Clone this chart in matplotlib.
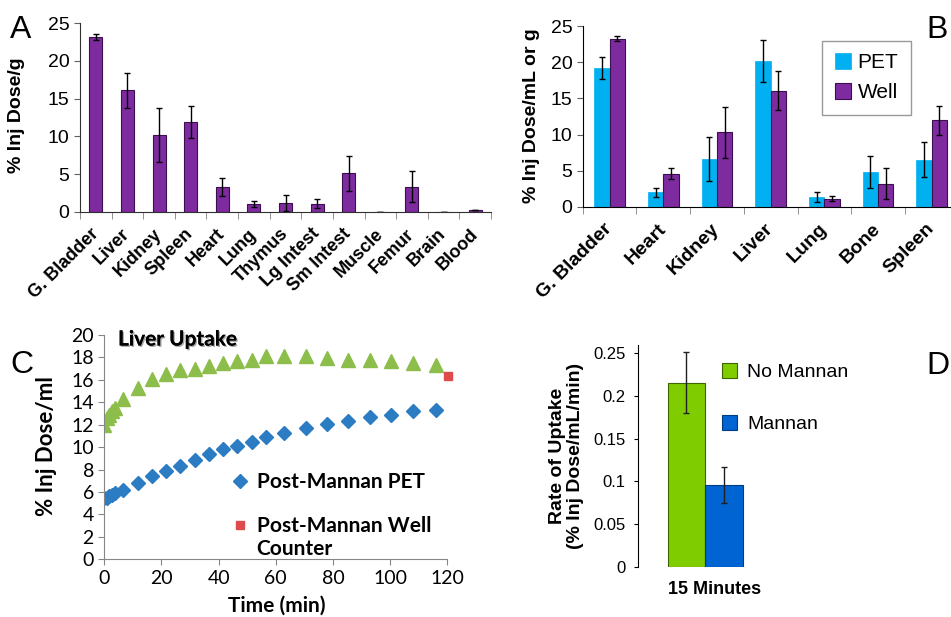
import matplotlib
matplotlib.use("Agg")
from matplotlib import pyplot as plt
from matplotlib import patheffects
import numpy as np

# ---- Panel A: biodistribution (well counter)
organs_a = ["G. Bladder", "Liver", "Kidney", "Spleen", "Heart", "Lung", "Thymus",
            "Lg Intest", "Sm Intest", "Muscle", "Femur", "Brain", "Blood"]
dose_a = [23.2, 16.1, 10.2, 11.9, 3.35, 1.1, 1.2, 1.1, 5.1, 0.05, 3.35, 0.05, 0.2]
err_a = [0.4, 2.3, 3.6, 2.1, 1.2, 0.4, 1.1, 0.6, 2.3, 0.0, 2.05, 0.0, 0.0]

# ---- Panel B: PET vs well
organs_b = ["G. Bladder", "Heart", "Kidney", "Liver", "Lung", "Bone", "Spleen"]
pet_b = [19.25, 2.0, 6.6, 20.2, 1.35, 4.8, 6.5]
pet_err_b = [1.5, 0.6, 3.0, 2.9, 0.65, 2.25, 2.4]
well_b = [23.3, 4.6, 10.3, 16.1, 1.1, 3.2, 12.0]
well_err_b = [0.3, 0.8, 3.5, 2.7, 0.35, 2.1, 2.0]

# ---- Panel C: liver uptake time course
time_c = [0, 0.8, 1.7, 2.7, 3.7, 6.6, 11.7, 16.7, 21.6, 26.6, 31.6, 36.6, 41.6,
          46.5, 51.7, 56.6, 62.9, 70.4, 77.9, 85.4, 92.8, 100.4, 108.1, 116.0]
liver_c = [12.0, 12.6, 12.9, 13.2, 13.5, 14.3, 15.3, 16.1, 16.5, 16.9, 17.0, 17.2,
           17.5, 17.7, 17.8, 18.1, 18.1, 18.1, 17.95, 17.8, 17.8, 17.7, 17.5, 17.3]
mannan_pet_c = [5.47, 5.5, 5.6, 5.7, 5.9, 6.15, 6.8, 7.4, 7.9, 8.35, 8.85, 9.4, 9.8,
                10.1, 10.5, 10.9, 11.3, 11.7, 12.1, 12.3, 12.65, 12.9, 13.2, 13.35]
well_time_c = [120.3]
well_c = [16.35]

# ---- Panel D: rate of uptake
groups_d = ["No Mannan", "Mannan"]
rate_d = [0.2153, 0.0952]
rate_err_d = [0.0355, 0.021]

W, H = 951, 617
fig = plt.figure(figsize=(W / 100, H / 100), dpi=100, facecolor="white")


def px_axes(left, top, right, bottom):
    return fig.add_axes([left / W, 1 - bottom / H, (right - left) / W, (bottom - top) / H])


arial = "Liberation Sans"
cal = "Lato"
purple = "#7F2BA0"
ekw = dict(ecolor="black", elinewidth=1, capsize=2, capthick=1)

# ================= A
axA = px_axes(80, 23, 491, 212)
xa = np.arange(len(organs_a))
axA.bar(xa, dose_a, width=0.41, color=purple, edgecolor="#3a1050", linewidth=0.8,
        yerr=err_a, error_kw=ekw)
axA.set_xlim(-0.5, len(organs_a) - 0.5)
axA.set_ylim(0, 25)
axA.set_yticks([0, 5, 10, 15, 20, 25])
axA.set_xticks(xa)
axA.set_xticklabels(organs_a, rotation=45, ha="right", va="center", rotation_mode="anchor",
                    fontsize=13, fontweight="bold", family=arial)
axA.tick_params(axis="x", length=0, pad=14)
axA.set_xticks(np.arange(len(organs_a) + 1) - 0.5, minor=True)
axA.tick_params(axis="x", which="minor", length=5, color="#808080", direction="out")
axA.tick_params(axis="y", length=4, color="#606060", labelsize=14)
for lab in axA.get_yticklabels():
    lab.set_family(arial)
for s in ["top", "right"]:
    axA.spines[s].set_visible(False)
for s in ["left", "bottom"]:
    axA.spines[s].set_color("#303030")
axA.set_ylabel("% Inj Dose/g", fontsize=14, fontweight="bold", family=arial)
axA.yaxis.set_label_coords(-0.134, 0.513)

# ================= B
axB = px_axes(582.7, 26.3, 582.7 + 7 * 53.7, 206.7)
xb = np.arange(len(organs_b))
bw = 0.285
axB.bar(xb - bw / 2, pet_b, width=bw, color="#00B0F0", edgecolor="#00B0F0", linewidth=0.5,
        yerr=pet_err_b, error_kw=ekw, label="PET")
axB.bar(xb + bw / 2, well_b, width=bw, color=purple, edgecolor="#3a1050", linewidth=0.8,
        yerr=well_err_b, error_kw=ekw, label="Well")
axB.set_xlim(-0.5, len(organs_b) - 0.5)
axB.set_ylim(0, 25)
axB.set_yticks([0, 5, 10, 15, 20, 25])
axB.set_xticks(xb)
axB.set_xticklabels(organs_b, rotation=45, ha="right", va="center", rotation_mode="anchor",
                    fontsize=14, fontweight="bold", family=arial)
axB.tick_params(axis="x", length=0, pad=14)
axB.set_xticks(np.arange(len(organs_b) + 1) - 0.5, minor=True)
axB.tick_params(axis="x", which="minor", length=5, color="#808080", direction="out")
axB.tick_params(axis="y", length=4, color="#606060", labelsize=14)
for lab in axB.get_yticklabels():
    lab.set_family(arial)
for s in ["top", "right"]:
    axB.spines[s].set_visible(False)
axB.set_ylabel("% Inj Dose/mL or g", fontsize=14, fontweight="bold", family=arial)
axB.yaxis.set_label_coords(-0.1136, 0.503)
legB = axB.legend(loc="upper left", bbox_to_anchor=(822 / W, 1 - 40.7 / H),
                  bbox_transform=fig.transFigure, borderaxespad=0, fancybox=False,
                  edgecolor="#808080", handlelength=0.8, handleheight=0.8, handletextpad=0.3,
                  labelspacing=0.5, borderpad=0.6, prop=dict(family=arial, size=15))
legB.get_frame().set_linewidth(1)

# ================= C
axC = px_axes(104.3, 335, 447.3, 559.3)
axC.plot(time_c, liver_c, linestyle="none", marker="^", ms=9.5, color="#8DBE4B")
axC.plot(time_c, mannan_pet_c, linestyle="none", marker="D", ms=7, color="#2B7CC2",
         label="Post-Mannan PET")
axC.plot(well_time_c, well_c, linestyle="none", marker="s", ms=6, color="#DE4B4B",
         label="Post-Mannan Well", clip_on=False)
axC.set_xlim(0, 120)
axC.set_ylim(0, 20)
axC.set_xticks(np.arange(0, 121, 20))
axC.set_yticks(np.arange(0, 21, 2))
axC.tick_params(length=4, color="#868686", labelsize=14)
for lab in axC.get_xticklabels() + axC.get_yticklabels():
    lab.set_family(cal)
for s in ["top", "right"]:
    axC.spines[s].set_visible(False)
for s in ["left", "bottom"]:
    axC.spines[s].set_color("#868686")
axC.set_ylabel("% Inj Dose/ml", fontsize=16, fontweight="bold", family=cal)
axC.yaxis.set_label_coords(-0.138, 0.505)
axC.set_xlabel("Time (min)", fontsize=15, fontweight="bold", family=cal)
axC.xaxis.set_label_coords(0.503, -0.162)
axC.text(0.04, 0.98, "Liver Uptake", transform=axC.transAxes, fontsize=15,
         fontweight="bold", family=cal, va="center", ha="left",
         path_effects=[patheffects.withSimplePatchShadow(offset=(1, -1), alpha=0.35),
                       patheffects.Normal()])
axC.legend(loc="upper left", bbox_to_anchor=(223 / W, 1 - 464 / H),
           bbox_transform=fig.transFigure, borderaxespad=0, frameon=False,
           handlelength=0.8, handletextpad=0.45, labelspacing=1.15,
           prop=dict(family=cal, size=15, weight="bold"))
fig.text(256 / W, 1 - 549 / H, "Counter", fontsize=15, fontweight="bold", family=cal,
         va="center", ha="left")

# ================= D
d_unit = 93.75
axD = px_axes(638.3, 344.5, 638.3 + 160, 566.7)
xd = np.array([-0.2, 0.2])
colors_d = ["#7FCC00", "#0064D2"]
edges_d = ["#3d6600", "#003a80"]
for i in range(len(groups_d)):
    axD.bar(xd[i], rate_d[i], width=0.4, color=colors_d[i], edgecolor=edges_d[i],
            linewidth=0.8, yerr=rate_err_d[i],
            error_kw=dict(ecolor="#202020", elinewidth=1, capsize=2, capthick=1),
            label=groups_d[i])
axD.set_xlim(-(705 - 638.3) / d_unit, -(705 - 638.3) / d_unit + 160 / d_unit)
axD.set_ylim(0, 0.26)
axD.set_yticks([0, 0.05, 0.1, 0.15, 0.2, 0.25])
axD.set_yticklabels(["0", "0.05", "0.1", "0.15", "0.2", "0.25"], family=arial)
axD.tick_params(axis="y", length=3, labelsize=12, pad=6)
axD.set_xticks([0.1])
axD.set_xticklabels(["15 Minutes"], fontsize=13, fontweight="bold", family=arial)
axD.tick_params(axis="x", length=0, pad=10)
for s in ["top", "right", "bottom"]:
    axD.spines[s].set_visible(False)
axD.set_ylabel("Rate of Uptake\n(% Inj Dose/mL/min)", fontsize=14, fontweight="bold",
               family=arial, linespacing=1.05)
axD.yaxis.set_label_coords(-0.339, 0.5)
axD.legend(loc="upper left", bbox_to_anchor=(714 / W, 1 - 355 / H),
           bbox_transform=fig.transFigure, borderaxespad=0, frameon=False,
           handlelength=0.8, handleheight=0.8, handletextpad=0.5, labelspacing=1.75,
           prop=dict(family=arial, size=14))

# panel letters
fig.text(10 / W, 1 - 38 / H, "A", fontsize=23, family=arial, va="baseline")
fig.text(926 / W, 1 - 38 / H, "B", fontsize=23, family=arial, va="baseline")
fig.text(10 / W, 1 - 373 / H, "C", fontsize=23, family=arial, va="baseline")
fig.text(926 / W, 1 - 374 / H, "D", fontsize=23, family=arial, va="baseline")

plt.savefig("out.png", dpi=100, facecolor="white")
plt.close()
